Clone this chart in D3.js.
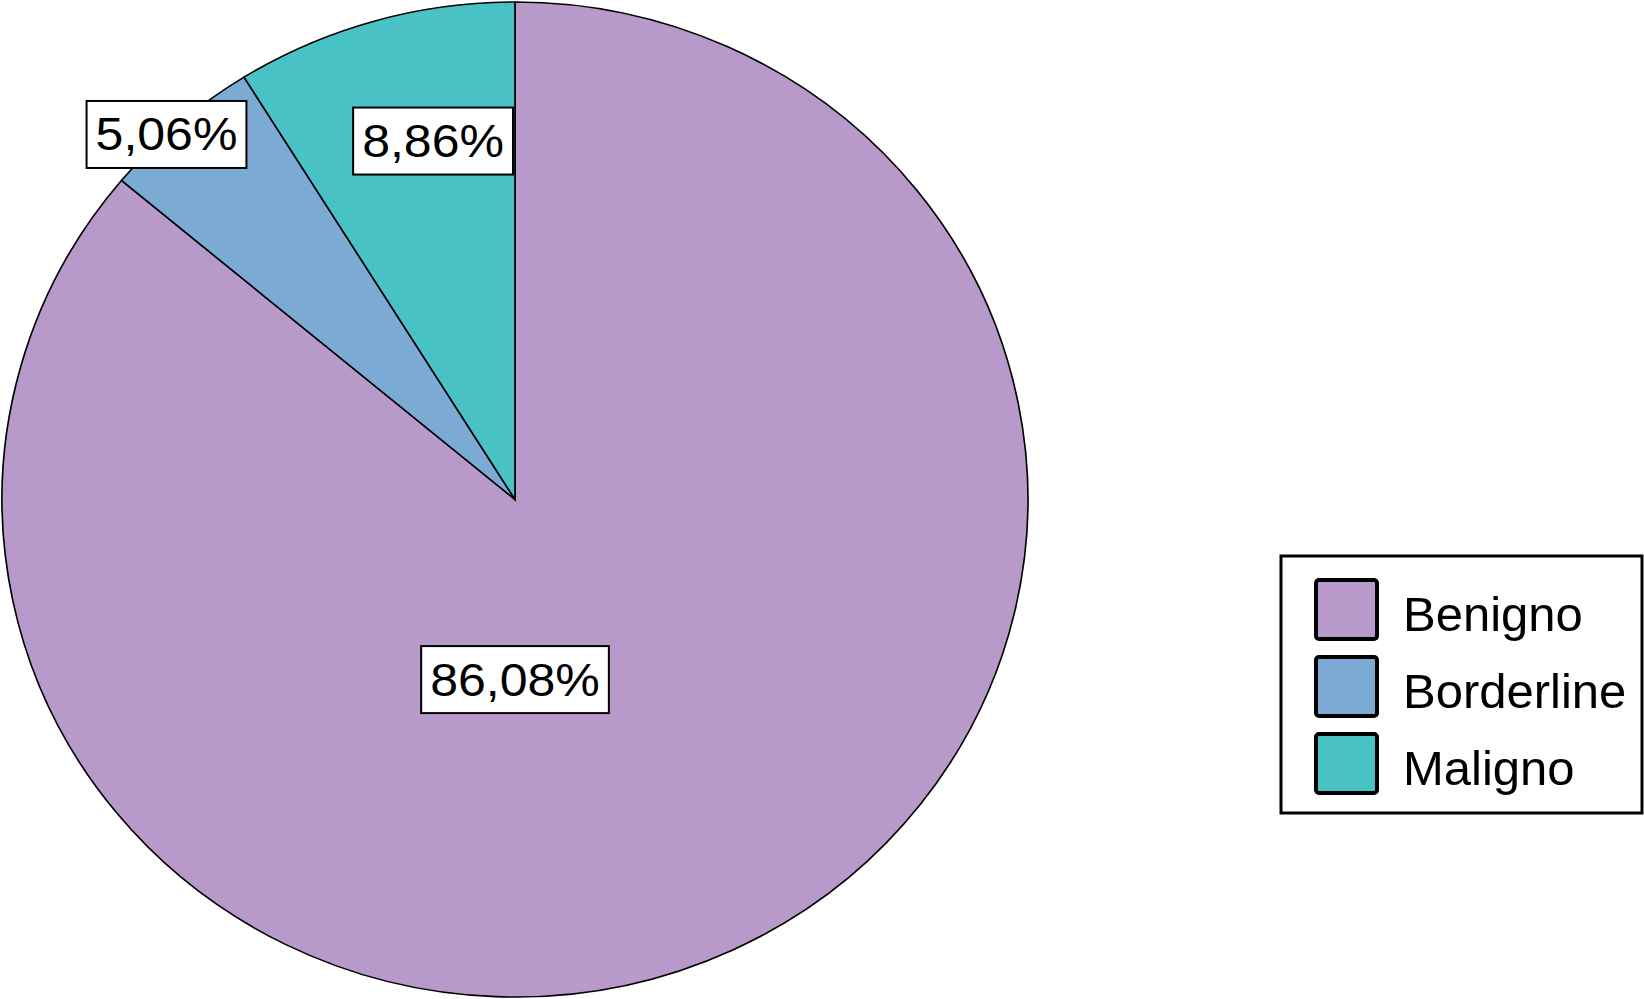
<!DOCTYPE html>
<html>
<head>
<meta charset="utf-8">
<script src="https://cdn.jsdelivr.net/npm/d3@7"></script>
<style>
  html, body { margin: 0; padding: 0; background: #fff; }
  svg { display: block; }
  text { font-family: "Liberation Sans", Arial, Helvetica, sans-serif; fill: #000; }
</style>
</head>
<body>
<div id="container"></div>
<script>
/* DATA */
const categories = ["Benigno", "Borderline", "Maligno"];
const percents = [86.08, 5.06, 8.86];
const colors = ["#b89aca", "#7baad5", "#49c2c5"];

/* LAYOUT */
const width = 1644,
      height = 999,
      cx = 515, cy = 499.5,
      radius = 497.5,
      stretchX = 1.031; // the source pie is slightly wider than tall

// where each value label box is centred: angle in degrees (clockwise from top), fraction of radius
const labelPlace = [
  { deg: 180, r: 0.362 },
  { deg: 317.2, r: 1.0 },
  { deg: 347.5, r: 0.738 }
];

const fmt = v => d3.format(".2f")(v).replace(".", ",") + "%";

const svg = d3.select("#container")
  .append("svg")
  .attr("width", width)
  .attr("height", height);

const data = categories.map((c, i) => ({ name: c, value: percents[i], color: colors[i] }));

const pie = d3.pie().sort(null).value(d => d.value);
const arcs = pie(data);
const arc = d3.arc().innerRadius(0).outerRadius(radius);

// + SLICES
svg.append("g")
  .attr("transform", `translate(${cx},${cy}) scale(${stretchX},1)`)
  .selectAll("path")
  .data(arcs)
  .join("path")
  .attr("d", arc)
  .attr("fill", d => d.data.color)
  .attr("stroke", "#000")
  .attr("stroke-width", 1.6)
  .attr("stroke-linejoin", "miter");

// + VALUE LABELS (white boxes)
const labels = svg.append("g")
  .selectAll("g")
  .data(arcs)
  .join("g")
  .attr("transform", (d, i) => {
    const p = labelPlace[i];
    const [x, y] = d3.pointRadial(p.deg * Math.PI / 180, radius * p.r);
    return `translate(${cx + x * stretchX},${cy + y})`;
  });

labels.append("text")
  .attr("text-anchor", "middle")
  .attr("dy", "0.35em")
  .attr("font-size", 45.5)
  .attr("transform", "scale(1.1,1)")
  .text(d => fmt(d.data.value));

labels.each(function() {
  const g = d3.select(this);
  const t = g.select("text");
  const b = t.node().getBBox();
  const w = b.width * 1.1 + 18, h = 67;
  g.insert("rect", "text")
    .attr("x", -w / 2)
    .attr("y", -h / 2)
    .attr("width", w)
    .attr("height", h)
    .attr("fill", "#fff")
    .attr("stroke", "#000")
    .attr("stroke-width", 2);
});

// + LEGEND
const legend = svg.append("g").attr("transform", "translate(1281,556)");
legend.append("rect")
  .attr("width", 361)
  .attr("height", 257)
  .attr("fill", "#fff")
  .attr("stroke", "#000")
  .attr("stroke-width", 3);

const item = legend.selectAll("g.item")
  .data(data)
  .join("g")
  .attr("class", "item")
  .attr("transform", (d, i) => `translate(0,${24 + i * 77})`);

item.append("rect")
  .attr("x", 35)
  .attr("width", 61)
  .attr("height", 59)
  .attr("rx", 3)
  .attr("fill", d => d.color)
  .attr("stroke", "#000")
  .attr("stroke-width", 4);

item.append("text")
  .attr("x", 122)
  .attr("y", 51)
  .attr("font-size", 49)
  .text(d => d.name);
</script>
</body>
</html>
